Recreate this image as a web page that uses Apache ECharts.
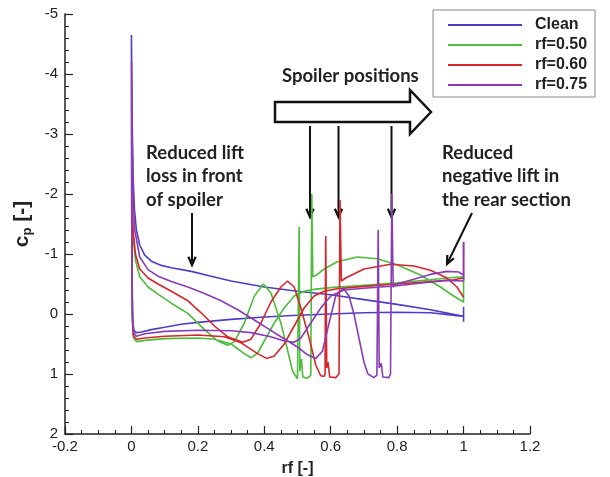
<!DOCTYPE html>
<html>
<head>
<meta charset="utf-8">
<script src="https://cdn.jsdelivr.net/npm/echarts@6/dist/echarts.min.js"></script>
<style>
html,body{margin:0;padding:0;background:#fff;}
#chart{width:610px;height:477px;}
</style>
</head>
<body>
<div id="chart"></div>
<script>
// legend names / colours
var seriesNames = ['Clean', 'rf=0.50', 'rf=0.60', 'rf=0.75'];
var seriesColors = ['#4a3fc6', '#4cbc3a', '#d6262c', '#8a3cb8'];

// [rf, cp] pairs, each one traced round the whole section
var clean = [[1.0,0.13],[1.0,-0.12],[1.0,0.04],[0.9,-0.07],[0.8,-0.16],[0.7,-0.24],[0.6,-0.32],[0.5,-0.38],[0.4,-0.45],[0.3,-0.55],[0.24,-0.63],[0.18,-0.71],[0.12,-0.77],[0.09,-0.81],[0.06,-0.88],[0.04,-0.98],[0.025,-1.15],[0.015,-1.4],[0.009,-1.75],[0.005,-2.3],[0.0025,-3.1],[0.001,-4.0],[0,-4.65],[0.001,-1.5],[0.002,-0.4],[0.004,0.15],[0.008,0.28],[0.015,0.31],[0.03,0.3],[0.06,0.26],[0.1,0.22],[0.15,0.17],[0.2,0.14],[0.3,0.09],[0.4,0.05],[0.5,0.02],[0.6,0.0],[0.7,-0.02],[0.8,-0.03],[0.9,-0.02],[1.0,0.04]];

var rf050 = [[1.0,-0.62],[0.95,-0.6],[0.9,-0.57],[0.8,-0.52],[0.7,-0.48],[0.6,-0.44],[0.55,-0.41],[0.52,-0.38],[0.49,-0.3],[0.46,-0.1],[0.43,0.15],[0.4,0.45],[0.38,0.65],[0.36,0.73],[0.34,0.66],[0.3,0.5],[0.25,0.42],[0.2,0.4],[0.1,0.41],[0.04,0.44],[0.015,0.46],[0.006,0.4],[0.003,0.1],[0.0015,-1.0],[0.002,-1.75],[0.005,-1.3],[0.012,-0.9],[0.025,-0.62],[0.05,-0.45],[0.08,-0.33],[0.12,-0.18],[0.17,-0.01],[0.22,0.26],[0.26,0.45],[0.29,0.52],[0.31,0.46],[0.34,0.15],[0.37,-0.3],[0.397,-0.5],[0.42,-0.35],[0.45,0.15],[0.47,0.6],[0.485,0.95],[0.5,1.08],[0.503,1.05],[0.505,-1.45],[0.507,0.95],[0.512,0.75],[0.516,1.05],[0.53,1.07],[0.54,1.02],[0.543,-2.0],[0.546,-0.62],[0.555,-0.64],[0.58,-0.75],[0.62,-0.87],[0.68,-0.95],[0.74,-0.92],[0.8,-0.82],[0.87,-0.65],[0.93,-0.45],[0.97,-0.3],[1.0,-0.2],[1.0,-0.62]];

var rf060 = [[1.0,-1.2],[1.0,-0.6],[0.97,-0.57],[0.9,-0.54],[0.8,-0.5],[0.7,-0.46],[0.62,-0.42],[0.58,-0.38],[0.55,-0.3],[0.52,-0.1],[0.49,0.2],[0.46,0.5],[0.43,0.7],[0.407,0.74],[0.38,0.66],[0.33,0.48],[0.28,0.38],[0.2,0.35],[0.1,0.37],[0.04,0.4],[0.015,0.42],[0.006,0.36],[0.003,0.1],[0.0015,-1.0],[0.002,-1.9],[0.005,-1.4],[0.012,-1.0],[0.025,-0.75],[0.05,-0.6],[0.08,-0.5],[0.12,-0.38],[0.17,-0.22],[0.21,-0.02],[0.25,0.2],[0.29,0.38],[0.335,0.47],[0.36,0.42],[0.39,0.15],[0.42,-0.2],[0.45,-0.45],[0.47,-0.55],[0.49,-0.45],[0.51,-0.1],[0.535,0.4],[0.555,0.85],[0.57,1.03],[0.58,1.04],[0.583,1.0],[0.585,-1.3],[0.588,0.9],[0.592,0.8],[0.597,1.05],[0.615,1.06],[0.625,1.0],[0.628,-1.9],[0.632,-0.55],[0.645,-0.6],[0.7,-0.75],[0.78,-0.83],[0.85,-0.8],[0.9,-0.73],[0.95,-0.6],[0.98,-0.45],[1.0,-0.28]];

var rf075 = [[1.0,-0.55],[0.95,-0.56],[0.88,-0.52],[0.8,-0.47],[0.75,-0.45],[0.7,-0.43],[0.64,-0.4],[0.6,-0.3],[0.57,-0.1],[0.54,0.15],[0.51,0.4],[0.49,0.47],[0.46,0.45],[0.42,0.38],[0.36,0.31],[0.3,0.28],[0.2,0.27],[0.1,0.29],[0.04,0.33],[0.015,0.37],[0.006,0.3],[0.003,0.0],[0.001,-1.5],[0.0005,-4.2],[0.002,-3.0],[0.005,-2.0],[0.01,-1.4],[0.025,-0.95],[0.05,-0.74],[0.08,-0.63],[0.12,-0.54],[0.17,-0.45],[0.22,-0.34],[0.27,-0.22],[0.32,-0.07],[0.37,0.1],[0.41,0.24],[0.45,0.38],[0.5,0.55],[0.53,0.68],[0.555,0.74],[0.575,0.62],[0.595,0.15],[0.615,-0.3],[0.638,-0.43],[0.655,-0.3],[0.67,0.0],[0.685,0.4],[0.7,0.8],[0.712,1.0],[0.73,1.06],[0.739,1.02],[0.743,-1.4],[0.746,0.9],[0.752,0.82],[0.757,1.05],[0.775,1.06],[0.78,1.0],[0.784,-2.0],[0.788,-0.45],[0.8,-0.5],[0.85,-0.58],[0.9,-0.66],[0.95,-0.71],[0.985,-0.7],[1.0,-0.65],[1.0,-1.2],[1.0,-0.55]];

var allData = [clean, rf050, rf060, rf075];

var myChart = echarts.init(document.getElementById('chart'));

function arrow(x1, y1, x2, y2) {
  var a = Math.atan2(y2 - y1, x2 - x1), L = 9, w = 0.42;
  return [
    {type: 'line', shape: {x1: x1, y1: y1, x2: x2, y2: y2}, style: {stroke: '#111', lineWidth: 2}},
    {type: 'polyline', shape: {points: [
      [x2 - L * Math.cos(a - w), y2 - L * Math.sin(a - w)], [x2, y2],
      [x2 - L * Math.cos(a + w), y2 - L * Math.sin(a + w)]]},
      style: {stroke: '#111', lineWidth: 2.2, fill: null}}
  ];
}

var noteFont = 'bold 18.5px Lato';
var graphics = [
  {type: 'text', left: 146, top: 141, style: {text: 'Reduced lift\nloss in front\nof spoiler', font: noteFont, fill: '#222', lineHeight: 23.5}},
  {type: 'text', left: 282, top: 67, style: {text: 'Spoiler positions', font: noteFont, fill: '#222'}},
  {type: 'text', left: 442, top: 141, style: {text: 'Reduced\nnegative lift in\nthe rear section', font: noteFont, fill: '#222', lineHeight: 23.5}},
  {type: 'polygon', shape: {points: [[275,102],[410,102],[410,90],[431,112],[410,134],[410,122],[275,122]]},
    style: {fill: '#fff', stroke: '#111', lineWidth: 2.5}}
].concat(arrow(310, 126, 310, 217), arrow(338.5, 126, 338.5, 217), arrow(391.5, 126, 391.5, 217),
         arrow(192, 213, 192, 265), arrow(472, 213, 447, 264));

var option = {
  backgroundColor: '#fff',
  animation: false,
  color: seriesColors,
  grid: {left: 65, right: 80, top: 14, bottom: 43, outerBoundsMode: 'none', containLabel: false},
  legend: {
    data: seriesNames,
    orient: 'vertical',
    left: 433, top: 10,
    padding: [7, 8, 4, 15],
    itemWidth: 74, itemHeight: 2, itemGap: 4,
    icon: 'rect',
    borderColor: '#888', borderWidth: 1,
    backgroundColor: '#fff',
    textStyle: {fontSize: 16, fontWeight: 'bold', color: '#222', fontFamily: 'Liberation Sans', padding: [0, 0, 0, 8]}
  },
  xAxis: {
    type: 'value', min: -0.2, max: 1.2, interval: 0.2,
    name: 'rf [-]', nameLocation: 'middle', nameGap: 27,
    nameTextStyle: {fontSize: 16, fontWeight: 'bold', color: '#222', fontFamily: 'Liberation Sans'},
    axisLine: {show: true, onZero: false, lineStyle: {color: '#222', width: 1.5}},
    axisTick: {show: true, inside: true, length: 8, lineStyle: {color: '#222', width: 1.2}},
    minorTick: {show: true, splitNumber: 4, length: 4, lineStyle: {color: '#222', width: 1}},
    splitLine: {show: false},
    axisLabel: {fontSize: 15, color: '#222', margin: 5, fontFamily: 'Liberation Sans'}
  },
  yAxis: {
    type: 'value', inverse: true, min: -5, max: 2, interval: 1,
    name: '{a|c}{b|p}{a| [-]}', nameLocation: 'middle', nameGap: 31,
    nameTextStyle: {
      color: '#222',
      rich: {
        a: {fontSize: 21, fontWeight: 'bold', color: '#222', fontFamily: 'Liberation Sans'},
        b: {fontSize: 13, fontWeight: 'bold', color: '#222', fontFamily: 'Liberation Sans', padding: [10, 0, 0, 0]}
      }
    },
    axisLine: {show: true, onZero: false, lineStyle: {color: '#222', width: 1.5}},
    axisTick: {show: true, inside: true, length: 8, lineStyle: {color: '#222', width: 1.2}},
    minorTick: {show: true, splitNumber: 5, length: 4, lineStyle: {color: '#222', width: 1}},
    splitLine: {show: false},
    axisLabel: {fontSize: 15, color: '#222', margin: 7, fontFamily: 'Liberation Sans'}
  },
  graphic: graphics,
  series: seriesNames.map(function (n, i) {
    return {
      name: n, type: 'line', data: allData[i],
      showSymbol: false, symbol: 'none',
      lineStyle: {width: 1.6, color: seriesColors[i]},
      z: 3 + i
    };
  })
};
myChart.setOption(option);
</script>
</body>
</html>
